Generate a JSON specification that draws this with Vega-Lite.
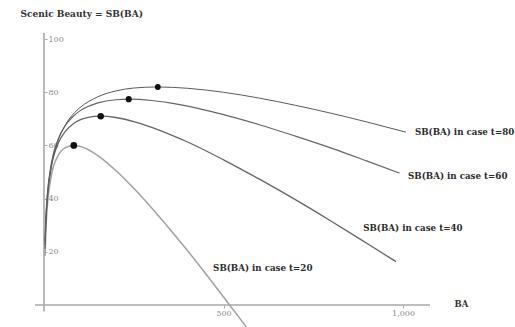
{
  "$schema": "https://vega.github.io/schema/vega-lite/v6.json",
  "width": 395,
  "height": 294,
  "autosize": "none",
  "padding": {"left": 35, "top": 33, "right": 85, "bottom": 0},
  "background": "white",
  "config": {"view": {"stroke": null}},
  "datasets": {
    "curves": [
      {"series": "t=20", "BA": 3, "SB": 18.4},
      {"series": "t=20", "BA": 5, "SB": 27.0},
      {"series": "t=20", "BA": 10, "SB": 38.2},
      {"series": "t=20", "BA": 20, "SB": 48.3},
      {"series": "t=20", "BA": 40, "SB": 56.3},
      {"series": "t=20", "BA": 60, "SB": 59.2},
      {"series": "t=20", "BA": 83, "SB": 60.0},
      {"series": "t=20", "BA": 100, "SB": 59.7},
      {"series": "t=20", "BA": 150, "SB": 56.2},
      {"series": "t=20", "BA": 200, "SB": 50.6},
      {"series": "t=20", "BA": 250, "SB": 43.9},
      {"series": "t=20", "BA": 300, "SB": 36.5},
      {"series": "t=20", "BA": 350, "SB": 28.6},
      {"series": "t=20", "BA": 400, "SB": 20.4},
      {"series": "t=20", "BA": 450, "SB": 11.8},
      {"series": "t=20", "BA": 500, "SB": 3.0},
      {"series": "t=20", "BA": 550, "SB": -5.9},
      {"series": "t=20", "BA": 575, "SB": -10.4},
      {"series": "t=40", "BA": 3, "SB": 22.7},
      {"series": "t=40", "BA": 5, "SB": 30.8},
      {"series": "t=40", "BA": 10, "SB": 41.5},
      {"series": "t=40", "BA": 20, "SB": 51.7},
      {"series": "t=40", "BA": 40, "SB": 60.9},
      {"series": "t=40", "BA": 60, "SB": 65.4},
      {"series": "t=40", "BA": 80, "SB": 68.0},
      {"series": "t=40", "BA": 100, "SB": 69.6},
      {"series": "t=40", "BA": 120, "SB": 70.5},
      {"series": "t=40", "BA": 158, "SB": 71.0},
      {"series": "t=40", "BA": 200, "SB": 70.5},
      {"series": "t=40", "BA": 250, "SB": 69.0},
      {"series": "t=40", "BA": 300, "SB": 66.8},
      {"series": "t=40", "BA": 350, "SB": 64.2},
      {"series": "t=40", "BA": 400, "SB": 61.3},
      {"series": "t=40", "BA": 500, "SB": 54.6},
      {"series": "t=40", "BA": 600, "SB": 47.3},
      {"series": "t=40", "BA": 700, "SB": 39.6},
      {"series": "t=40", "BA": 800, "SB": 31.5},
      {"series": "t=40", "BA": 900, "SB": 23.1},
      {"series": "t=40", "BA": 980, "SB": 16.3},
      {"series": "t=60", "BA": 3, "SB": 24.1},
      {"series": "t=60", "BA": 5, "SB": 32.0},
      {"series": "t=60", "BA": 10, "SB": 42.6},
      {"series": "t=60", "BA": 20, "SB": 52.9},
      {"series": "t=60", "BA": 40, "SB": 62.5},
      {"series": "t=60", "BA": 60, "SB": 67.6},
      {"series": "t=60", "BA": 80, "SB": 70.8},
      {"series": "t=60", "BA": 100, "SB": 73.0},
      {"series": "t=60", "BA": 150, "SB": 76.0},
      {"series": "t=60", "BA": 200, "SB": 77.2},
      {"series": "t=60", "BA": 236, "SB": 77.4},
      {"series": "t=60", "BA": 300, "SB": 76.9},
      {"series": "t=60", "BA": 350, "SB": 76.0},
      {"series": "t=60", "BA": 400, "SB": 74.8},
      {"series": "t=60", "BA": 500, "SB": 71.6},
      {"series": "t=60", "BA": 600, "SB": 67.8},
      {"series": "t=60", "BA": 700, "SB": 63.5},
      {"series": "t=60", "BA": 800, "SB": 59.0},
      {"series": "t=60", "BA": 900, "SB": 54.1},
      {"series": "t=60", "BA": 990, "SB": 49.6},
      {"series": "t=80", "BA": 3, "SB": 21.1},
      {"series": "t=80", "BA": 5, "SB": 29.5},
      {"series": "t=80", "BA": 10, "SB": 40.7},
      {"series": "t=80", "BA": 20, "SB": 51.7},
      {"series": "t=80", "BA": 40, "SB": 62.1},
      {"series": "t=80", "BA": 60, "SB": 67.8},
      {"series": "t=80", "BA": 80, "SB": 71.6},
      {"series": "t=80", "BA": 100, "SB": 74.2},
      {"series": "t=80", "BA": 150, "SB": 78.3},
      {"series": "t=80", "BA": 200, "SB": 80.5},
      {"series": "t=80", "BA": 250, "SB": 81.6},
      {"series": "t=80", "BA": 317, "SB": 82.0},
      {"series": "t=80", "BA": 400, "SB": 81.5},
      {"series": "t=80", "BA": 500, "SB": 80.0},
      {"series": "t=80", "BA": 600, "SB": 77.8},
      {"series": "t=80", "BA": 700, "SB": 75.1},
      {"series": "t=80", "BA": 800, "SB": 72.1},
      {"series": "t=80", "BA": 900, "SB": 68.8},
      {"series": "t=80", "BA": 1008, "SB": 65.0}
    ],
    "peaks": [
      {"series": "t=20", "BA": 83, "SB": 60.0},
      {"series": "t=40", "BA": 158, "SB": 71.0},
      {"series": "t=60", "BA": 236, "SB": 77.4},
      {"series": "t=80", "BA": 317, "SB": 82.0}
    ],
    "labels": [
      {"series": "t=80", "BA": 1033, "SB": 65.0, "text": "SB(BA) in case t=80"},
      {"series": "t=60", "BA": 1014, "SB": 48.5, "text": "SB(BA) in case t=60"},
      {"series": "t=40", "BA": 889, "SB": 29.0, "text": "SB(BA) in case t=40"},
      {"series": "t=20", "BA": 471, "SB": 13.9, "text": "SB(BA) in case t=20"}
    ],
    "axisLines": [
      {"BA": 0, "SB": -2.5, "BA2": 0, "SB2": 102.3},
      {"BA": -25, "SB": 0, "BA2": 1075, "SB2": 0}
    ]
  },
  "layer": [
    {
      "data": {"name": "axisLines"},
      "mark": {"type": "rule", "color": "#a8a8a8", "strokeWidth": 1.6},
      "encoding": {
        "x": {
          "field": "BA", "type": "quantitative",
          "scale": {"domain": [-25, 1075], "nice": false, "zero": false},
          "axis": {
            "orient": "bottom", "offset": -22, "values": [500, 1000],
            "domain": false, "grid": false, "tickSize": 3, "tickColor": "#aaa",
            "labelFont": "DejaVu Serif", "labelFontSize": 8, "labelColor": "#8a8a8a", "labelPadding": 1,
            "title": "BA", "titleX": 426, "titleY": -2, "titleAlign": "center", "titleBaseline": "middle",
            "titleFont": "DejaVu Serif", "titleFontSize": 8.5, "titleFontWeight": "bold", "titleColor": "#333"
          }
        },
        "y": {
          "field": "SB", "type": "quantitative",
          "scale": {"domain": [-8.3, 102.3], "nice": false, "zero": false},
          "axis": {
            "orient": "right", "offset": -386, "values": [20, 40, 60, 80, 100],
            "domain": false, "grid": false, "tickSize": 3, "tickColor": "#aaa",
            "labelFont": "DejaVu Serif", "labelFontSize": 8, "labelColor": "#8a8a8a", "labelPadding": 1,
            "title": "Scenic Beauty = SB(BA)", "titleAngle": 0, "titleX": -24, "titleY": -20,
            "titleAlign": "left", "titleBaseline": "middle",
            "titleFont": "DejaVu Serif", "titleFontSize": 9, "titleFontWeight": "bold", "titleColor": "#333"
          }
        },
        "x2": {"field": "BA2"},
        "y2": {"field": "SB2"}
      }
    },
    {
      "data": {"name": "curves"},
      "mark": {"type": "line", "interpolate": "monotone"},
      "encoding": {
        "x": {"field": "BA", "type": "quantitative"},
        "y": {"field": "SB", "type": "quantitative"},
        "detail": {"field": "series"},
        "order": {"field": "BA", "type": "quantitative"},
        "color": {
          "field": "series", "type": "nominal", "legend": null,
          "scale": {"domain": ["t=20", "t=40", "t=60", "t=80"], "range": ["#a2a2a2", "#666666", "#666666", "#5a5a5a"]}
        },
        "strokeWidth": {
          "field": "series", "type": "nominal", "legend": null,
          "scale": {"domain": ["t=20", "t=40", "t=60", "t=80"], "range": [1.5, 1.0, 1.0, 1.0]}
        }
      }
    },
    {
      "data": {"name": "peaks"},
      "mark": {"type": "point", "shape": "circle", "filled": true, "color": "#111", "opacity": 1},
      "encoding": {
        "x": {"field": "BA", "type": "quantitative"},
        "y": {"field": "SB", "type": "quantitative"},
        "size": {
          "field": "series", "type": "nominal", "legend": null,
          "scale": {"domain": ["t=20", "t=40", "t=60", "t=80"], "range": [45, 34, 24, 15]}
        }
      }
    },
    {
      "data": {"name": "labels"},
      "mark": {"type": "text", "align": "left", "baseline": "middle", "font": "DejaVu Serif", "fontSize": 8.7, "fontWeight": "bold", "color": "#2a2a2a"},
      "encoding": {
        "x": {"field": "BA", "type": "quantitative"},
        "y": {"field": "SB", "type": "quantitative"},
        "text": {"field": "text"}
      }
    }
  ]
}
